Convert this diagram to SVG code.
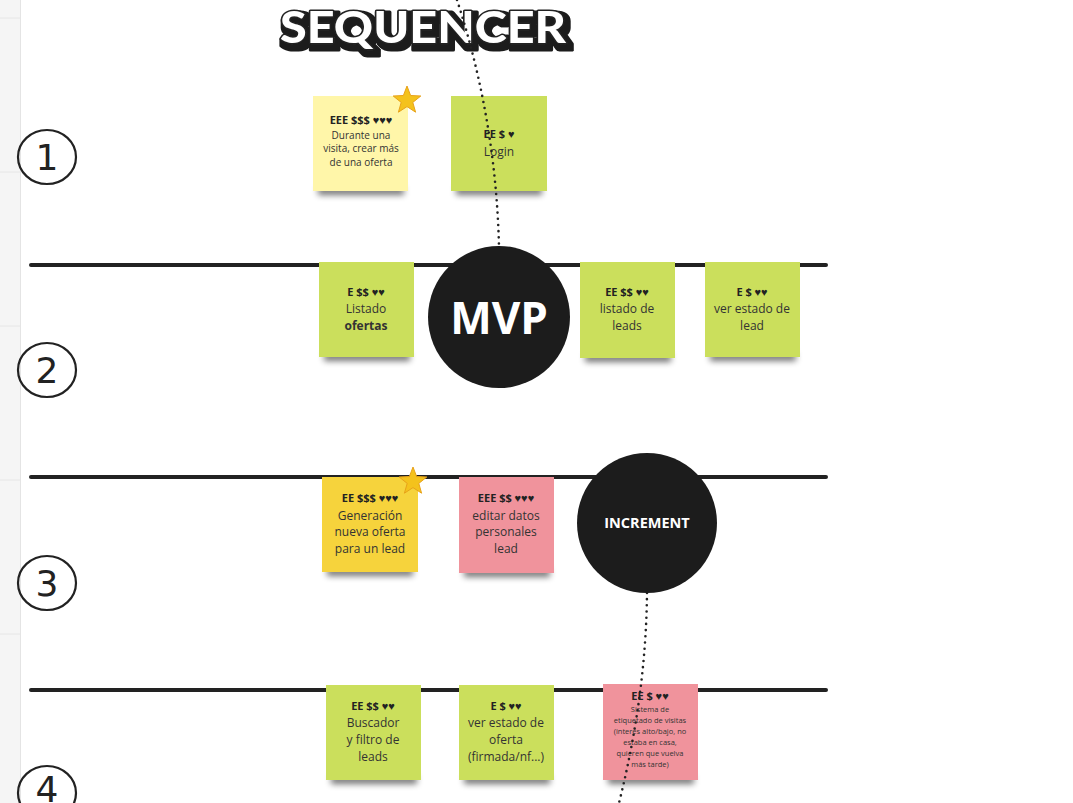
<svg xmlns="http://www.w3.org/2000/svg" width="1073" height="803" viewBox="0 0 1073 803">
<defs>
<filter id="blur" x="-20%" y="-100%" width="140%" height="300%"><feGaussianBlur stdDeviation="3"/></filter>
<filter id="pop" x="-5%" y="-30%" width="110%" height="160%">
<feMorphology in="SourceAlpha" operator="dilate" radius="2.5" result="d"/>
<feOffset in="d" dx="3" dy="4" result="o"/>
<feFlood flood-color="#1c1c1c"/>
<feComposite in2="o" operator="in" result="sh"/>
<feMerge><feMergeNode in="sh"/><feMergeNode in="SourceGraphic"/></feMerge>
</filter>
<style>
.hd{font-family:"Open Sans","Noto Sans",sans-serif;font-weight:700;font-size:11px;fill:#222;text-anchor:middle}
.tx{font-family:"Open Sans","Noto Sans",sans-serif;font-size:12px;fill:#333;text-anchor:middle}
.sm{font-family:"Open Sans","Noto Sans",sans-serif;font-size:10px;fill:#333;text-anchor:middle}
.xs{font-family:"Open Sans","Noto Sans",sans-serif;font-size:7.5px;fill:#333;text-anchor:middle}
.green{fill:#cbdf5c}
.pale{fill:#fff6a9}
.gold{fill:#f6d33c}
.pink{fill:#f0939c}
.shadow{fill:#000;opacity:0.55;filter:url(#blur)}
.lane{stroke:#222;stroke-width:4;stroke-linecap:round}
.num{fill:none;stroke:#222;stroke-width:2.2}
.digit{font-family:"DejaVu Sans",sans-serif;font-size:36px;fill:#222;text-anchor:middle}
.dots{fill:none;stroke:#222;stroke-width:2.6;stroke-linecap:round;stroke-dasharray:0 6.2}
.star{fill:#f4c21c;stroke:#e8a21a;stroke-width:1}
</style>
</defs>
<rect width="1073" height="803" fill="#fff"/>
<rect x="0" y="0" width="20" height="803" fill="#f5f5f5"/>
<line x1="20.5" y1="0" x2="20.5" y2="803" stroke="#e4e4e4"/>
<g stroke="#e6e6e6"><line x1="0" y1="18" x2="20" y2="18"/><line x1="0" y1="172" x2="20" y2="172"/><line x1="0" y1="326" x2="20" y2="326"/><line x1="0" y1="480" x2="20" y2="480"/><line x1="0" y1="634" x2="20" y2="634"/></g>

<g id="title">
<text x="423" y="43" font-family="Lato,'DejaVu Sans',sans-serif" font-weight="900" font-size="44" text-anchor="middle" textLength="286" lengthAdjust="spacingAndGlyphs" fill="#fff" stroke="#222" stroke-width="3" stroke-linejoin="round" paint-order="stroke" filter="url(#pop)">SEQUENCER</text>
</g>

<g id="lanes">
<line class="lane" x1="31" y1="265" x2="826" y2="265"/>
<line class="lane" x1="31" y1="477" x2="826" y2="477"/>
<line class="lane" x1="31" y1="690" x2="826" y2="690"/>
</g>

<g id="numbers">
<ellipse class="num" cx="47" cy="157" rx="29" ry="27"/><text class="digit" x="47" y="170">1</text>
<ellipse class="num" cx="47" cy="370" rx="29" ry="27"/><text class="digit" x="47" y="383">2</text>
<ellipse class="num" cx="47" cy="583" rx="29" ry="27"/><text class="digit" x="47" y="596">3</text>
<ellipse class="num" cx="47" cy="793" rx="29" ry="27"/><text class="digit" x="47" y="802">4</text>
</g>

<g id="s1">
<rect class="shadow" x="318" y="187" width="86" height="8"/>
<rect class="pale" x="313" y="96" width="95" height="95"/>
<text class="hd" x="361" y="124" font-size="10">EEE $$$ ♥♥♥</text>
<text class="sm" x="361" y="139">Durante una</text>
<text class="sm" x="361" y="152">visita, crear más</text>
<text class="sm" x="361" y="166">de una oferta</text>
<polygon class="star" points="407,86 410.6,95.5 420.8,96 412.8,102.4 415.6,112.2 407,106.6 398.4,112.2 401.2,102.4 393.2,96 403.4,95.5"/>
</g>
<g id="s2">
<rect class="shadow" x="456" y="187" width="86" height="8"/>
<rect class="green" x="451" y="96" width="96" height="95"/>
<text class="hd" x="499" y="138">EE $ ♥</text>
<text class="tx" x="499" y="156">Login</text>
</g>
<g id="s3">
<rect class="shadow" x="324" y="353" width="86" height="8"/>
<rect class="green" x="319" y="262" width="95" height="95"/>
<text class="hd" x="366" y="296">E $$ ♥♥</text>
<text class="tx" x="366" y="313">Listado</text>
<text class="tx" x="366" y="330" font-weight="700" fill="#222">ofertas</text>
</g>
<g id="s4">
<rect class="shadow" x="585" y="354" width="86" height="8"/>
<rect class="green" x="580" y="262" width="95" height="96"/>
<text class="hd" x="627" y="296">EE $$ ♥♥</text>
<text class="tx" x="627" y="313">listado de</text>
<text class="tx" x="627" y="330">leads</text>
</g>
<g id="s5">
<rect class="shadow" x="710" y="353" width="86" height="8"/>
<rect class="green" x="705" y="262" width="95" height="95"/>
<text class="hd" x="752" y="296">E $ ♥♥</text>
<text class="tx" x="752" y="313">ver estado de</text>
<text class="tx" x="752" y="330">lead</text>
</g>
<g id="s6">
<rect class="shadow" x="327" y="568" width="86" height="8"/>
<rect class="gold" x="322" y="477" width="96" height="95"/>
<text class="hd" x="370" y="502">EE $$$ ♥♥♥</text>
<text class="tx" x="370" y="520">Generación</text>
<text class="tx" x="370" y="536">nueva oferta</text>
<text class="tx" x="370" y="553">para un lead</text>
<polygon class="star" points="413,467 416.6,476.5 426.8,477 418.8,483.4 421.6,493.2 413,487.6 404.4,493.2 407.2,483.4 399.2,477 409.4,476.5"/>
</g>
<g id="s7">
<rect class="shadow" x="464" y="569" width="86" height="8"/>
<rect class="pink" x="459" y="477" width="95" height="96"/>
<text class="hd" x="506" y="502">EEE $$ ♥♥♥</text>
<text class="tx" x="506" y="520">editar datos</text>
<text class="tx" x="506" y="536">personales</text>
<text class="tx" x="506" y="553">lead</text>
</g>
<g id="s8">
<rect class="shadow" x="331" y="776" width="86" height="8"/>
<rect class="green" x="326" y="685" width="95" height="95"/>
<text class="hd" x="373" y="710">EE $$ ♥♥</text>
<text class="tx" x="373" y="727">Buscador</text>
<text class="tx" x="373" y="744">y filtro de</text>
<text class="tx" x="373" y="761">leads</text>
</g>
<g id="s9">
<rect class="shadow" x="464" y="776" width="86" height="8"/>
<rect class="green" x="459" y="685" width="95" height="95"/>
<text class="hd" x="506" y="710">E $ ♥♥</text>
<text class="tx" x="506" y="727">ver estado de</text>
<text class="tx" x="506" y="744">oferta</text>
<text class="tx" x="506" y="761">(firmada/nf...)</text>
</g>
<g id="s10">
<rect class="shadow" x="608" y="776" width="86" height="8"/>
<rect class="pink" x="603" y="684" width="95" height="96"/>
<text class="hd" x="650" y="700" font-size="8.5">EE $ ♥♥</text>
<text class="xs" x="650" y="712">Sistema de</text>
<text class="xs" x="650" y="723">etiquetado de visitas</text>
<text class="xs" x="650" y="734">(interés alto/bajo, no</text>
<text class="xs" x="650" y="745">estaba en casa,</text>
<text class="xs" x="650" y="756">quieren que vuelva</text>
<text class="xs" x="650" y="767">más tarde)</text>
</g>

<g id="connectors">
<path class="dots" d="M457,0 Q496,120 499,247"/>
<path class="dots" d="M647,593 Q646,695 619,803"/>
</g>

<g id="mvp">
<circle cx="499" cy="317" r="71" fill="#1c1c1c"/>
<text x="499" y="334" font-family="'Open Sans','Noto Sans',sans-serif" font-weight="700" font-size="44" fill="#fff" text-anchor="middle">MVP</text>
</g>
<g id="increment">
<circle cx="647" cy="523" r="70" fill="#1c1c1c"/>
<text x="647" y="528" font-family="'Open Sans','Noto Sans',sans-serif" font-weight="700" font-size="14.5" fill="#fff" text-anchor="middle">INCREMENT</text>
</g>
</svg>
